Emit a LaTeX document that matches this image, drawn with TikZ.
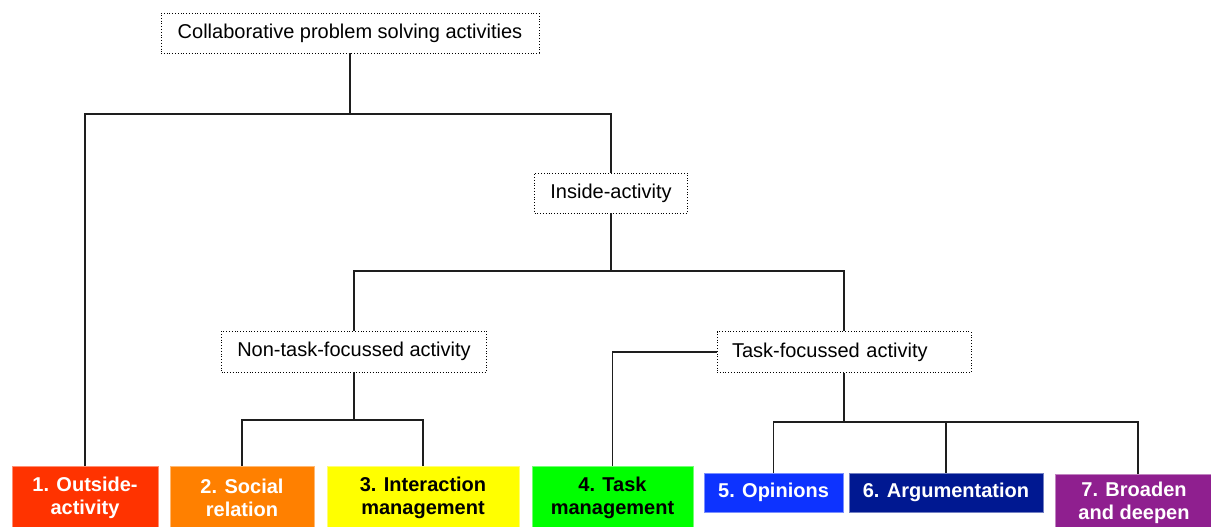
\documentclass[tikz,border=0pt]{standalone}
\usepackage{fontspec}
\setmainfont{Liberation Sans}
\definecolor{cOne}{RGB}{255,51,0}
\definecolor{cTwo}{RGB}{255,128,0}
\definecolor{cThree}{RGB}{255,255,0}
\definecolor{cFour}{RGB}{0,255,0}
\definecolor{cFive}{RGB}{13,51,255}
\definecolor{cSix}{RGB}{0,24,145}
\definecolor{cSeven}{RGB}{143,31,143}
\definecolor{lineC}{RGB}{30,30,30}
\begin{document}
\begin{tikzpicture}[x=1pt,y=-1pt,
  catbox/.style={draw=black, dotted, line width=0.8pt, inner sep=0pt, font=\fontsize{20}{24}\selectfont, text=black},
  leafbox/.style={draw=#1!55!white, fill=#1, line width=0.8pt, inner sep=0pt, align=center, font=\bfseries\fontsize{20}{23.5}\selectfont},
  conn/.style={draw=lineC, line width=1.6pt},
]
\useasboundingbox (0,0) rectangle (1211,527);

% category boxes
\node[catbox, minimum width=378pt, minimum height=40pt] (root) at (350,33) {Collaborative problem solving activities};
\node[catbox, minimum width=153pt, minimum height=40pt] (inside) at (611,193) {Inside-activity};
\node[catbox, minimum width=265pt, minimum height=41pt] (nontask) at (354,351.5) {Non-task-focussed activity};
\node[catbox, minimum width=254pt, minimum height=41pt, text width=224pt, align=left] (task) at (844,352) {Task-focussed activity};

% leaf boxes
\node[leafbox=cOne, text=white, minimum width=146pt, minimum height=64pt] (l1) at (85,498) {1. Outside-\\activity};
\node[leafbox=cTwo, text=white, minimum width=144pt, minimum height=64pt] (l2) at (242,498) {2. Social\\relation};
\node[leafbox=cThree, text=black, minimum width=192pt, minimum height=64pt] (l3) at (423,498) {3. Interaction\\management};
\node[leafbox=cFour, text=black, minimum width=161pt, minimum height=64pt] (l4) at (612.5,498) {4. Task\\management};
\node[leafbox=cFive, text=white, minimum width=139pt, minimum height=39pt] (l5) at (773.5,492.5) {5. Opinions};
\node[leafbox=cSix, text=white, minimum width=194pt, minimum height=39pt] (l6) at (946,492.5) {6. Argumentation};
\node[leafbox=cSeven, text=white, minimum width=158pt, minimum height=58pt] (l7) at (1134,503) {7. Broaden\\and deepen};

% connectors
\coordinate (j1) at (350,114);
\coordinate (j2) at (611,271);
\coordinate (j3) at (354,420);
\coordinate (j4) at (844,422);
\coordinate (s7) at (1138,474);

\draw[conn] (root.south) -- (j1);
\draw[conn] (l1.north) |- (j1) -| (inside.north);
\draw[conn] (inside.south) -- (j2);
\draw[conn] (nontask.north) |- (j2) -| (task.north);
\draw[conn] (nontask.south) -- (j3);
\draw[conn] (l2.north) |- (j3) -| (l3.north);
\draw[conn] (task.west) -| (l4.north);
\draw[conn] (task.south) -- (j4);
\draw[conn] (l5.north) |- (j4) -| (s7);
\draw[conn] (l6.north) -- (l6.north |- j4);
\end{tikzpicture}
\end{document}
